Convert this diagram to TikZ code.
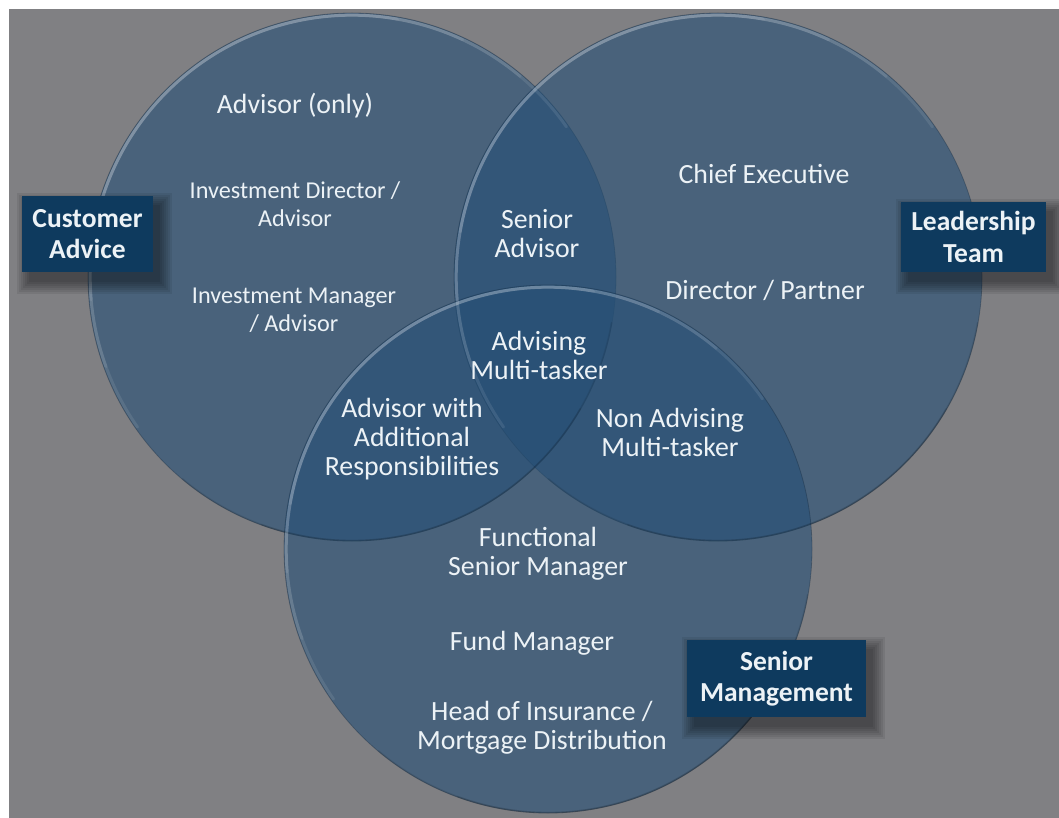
\documentclass[tikz,border=0pt]{standalone}
\usepackage{fontspec}
\setmainfont{Carlito}
\definecolor{bggray}{RGB}{128,128,131}
\definecolor{vennblue}{RGB}{37,79,118}
\definecolor{boxblue}{RGB}{14,58,94}
\definecolor{txt}{RGB}{236,242,246}
\pgfdeclarelayer{back}
\pgfdeclarelayer{shade}
\pgfsetlayers{back,shade,main}
\begin{document}
\begin{tikzpicture}[x=1pt,y=-1pt,
  venn/.style={circle, minimum size=528pt, inner sep=0pt, fill=vennblue, fill opacity=0.6,
    draw=vennblue!50!black, draw opacity=0.35, line width=0.8pt},
  rim/.style={draw=white, draw opacity=0.09, line width=3pt, line cap=round},
  rimlo/.style={draw=black, draw opacity=0.09, line width=1.6pt, line cap=round},
  lbl/.style={text=txt, align=center, font=\fontsize{27.8}{29}\selectfont, inner sep=0pt},
  sml/.style={text=txt, align=center, font=\fontsize{24.2}{28}\selectfont, inner sep=0pt},
  tag/.style={fill=boxblue, text=txt, align=center, font=\bfseries\fontsize{27.5}{31.5}\selectfont,
    inner sep=0pt},
  shd/.style={fill=black, fill opacity=0.07},
]
\useasboundingbox (0,0) rectangle (1059,818);
\begin{pgfonlayer}{back}
\fill[white] (0,0) rectangle (1059,818);
\fill[bggray] (9,9) rectangle (1059,818);

% circles
\node[venn] (cA) at (352,277) {};
\node[venn] (cL) at (718,277) {};
\node[venn] (cS) at (548,549) {};
\foreach \c in {cA,cL,cS}{
  \begin{scope}[shift={(\c.center)}, y=1pt]
    \foreach \a/\b in {35/215, 50/200, 65/185, 80/170}{
      \draw[rim] (\a:261.8) arc[start angle=\a, end angle=\b, radius=261.8];
    }
    \foreach \a/\b in {-10/-130, -30/-110}{
      \draw[rimlo] (\a:263.6) arc[start angle=\a, end angle=\b, radius=263.6];
    }
  \end{scope}
}
\end{pgfonlayer}

% tags
\node[tag, minimum width=131pt, minimum height=76pt] (tA) at (87.5,234) {Customer\\Advice};
\node[tag, minimum width=145pt, minimum height=70pt] (tL) at (973.5,237) {Leadership\\Team};
\node[tag, minimum width=179pt, minimum height=77pt] (tS) at (776.5,678.5) {Senior\\Management};
\begin{pgfonlayer}{shade}
\foreach \t in {tA,tL,tS}{
  \foreach \i in {0,2,4,6,8,10,12}{
    \fill[shd] ([shift={(7-\i,9-\i)}]\t.north west) rectangle ([shift={(7+\i,10+\i)}]\t.south east);
  }
}
\end{pgfonlayer}

% texts
\node[lbl] (advonly) at (295,106) {Advisor (only)};
\node[sml] (invdir) at (295,204) {Investment Director /\\Advisor};
\node[sml] (invman) at (294,310) {Investment Manager\\/ Advisor};
\node[lbl] (senadv) at (537,234) {Senior\\Advisor};
\node[lbl] (chief) at (764,174) {Chief Executive};
\node[lbl] (dirp) at (765,290) {Director / Partner};
\node[lbl] (advmt) at (539,355) {Advising\\Multi-tasker};
\node[lbl] (advwith) at (412,439) {Advisor with\\Additional\\Responsibilities};
\node[lbl] (nonadv) at (670,432) {Non Advising\\Multi-tasker};
\node[lbl] (func) at (538,554) {Functional\\Senior Manager};
\node[lbl] (fund) at (532,643) {Fund Manager};
\node[lbl] (head) at (542,728) {Head of Insurance /\\Mortgage Distribution};
\end{tikzpicture}
\end{document}
